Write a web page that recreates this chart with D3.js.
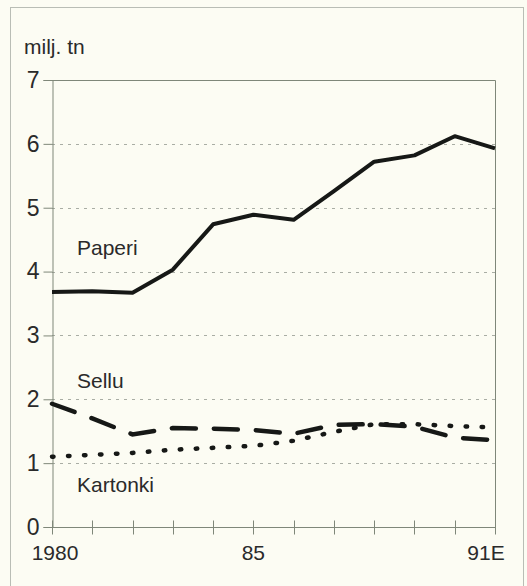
<!DOCTYPE html>
<html>
<head>
<meta charset="utf-8">
<script src="https://cdn.jsdelivr.net/npm/d3@7"></script>
<style>
  body { margin: 0; background: #fcfcf3; }
  svg { display: block; }
  text { font-family: "Liberation Sans", Arial, sans-serif; fill: #2a2a2a; }
</style>
</head>
<body>
<div id="chart"></div>
<script>
// Years 1980..1991 (1991 = estimate)
const years = [1980, 1981, 1982, 1983, 1984, 1985, 1986, 1987, 1988, 1989, 1990, 1991];
const xTickLabels = { 1980: "1980", 1985: "85", 1991: "91E" };
const yTicks = [0, 1, 2, 3, 4, 5, 6, 7];

// Production, million tonnes
const paperi   = [3.68, 3.69, 3.67, 4.03, 4.74, 4.89, 4.81, 5.26, 5.72, 5.82, 6.12, 5.93];
const sellu    = [1.93, 1.70, 1.45, 1.55, 1.54, 1.52, 1.46, 1.60, 1.61, 1.57, 1.40, 1.36];
const kartonki = [1.10, 1.13, 1.16, 1.21, 1.24, 1.27, 1.35, 1.49, 1.61, 1.61, 1.58, 1.56];

const width = 527, height = 586;
const margin = { top: 80, right: 32, bottom: 59, left: 52 };

const svg = d3.select("#chart")
    .append("svg")
    .attr("width", width)
    .attr("height", height);

// outer frame
svg.append("rect")
    .attr("x", 10.5)
    .attr("y", 7.5)
    .attr("width", 513)
    .attr("height", 600)
    .attr("fill", "#fcfcf3")
    .attr("stroke", "#b9bdb5")
    .attr("stroke-width", 1);

const x = d3.scaleLinear()
    .domain([1980, 1991])
    .range([margin.left, width - margin.right]);

const y = d3.scaleLinear()
    .domain([0, 7])
    .range([height - margin.bottom, margin.top]);

const axisColor = "#7f8779";

// dotted gridlines 1..6
svg.selectAll(".grid")
    .data(yTicks.filter(d => d > 0 && d < 7))
    .enter()
    .append("line")
    .attr("class", "grid")
    .attr("x1", x(1980))
    .attr("x2", x(1991))
    .attr("y1", d => Math.round(y(d)) + 0.5)
    .attr("y2", d => Math.round(y(d)) + 0.5)
    .attr("stroke", "#a9ada4")
    .attr("stroke-width", 1)
    .attr("stroke-dasharray", "3 5");

// top and right border of the plot
svg.append("path")
    .attr("d", "M" + x(1980) + "," + (Math.round(y(7)) + 0.5) +
        "H" + (Math.round(x(1991)) + 0.5) + "V" + y(0))
    .attr("fill", "none")
    .attr("stroke", axisColor)
    .attr("stroke-width", 1);

// y axis
const yAxis = svg.append("g")
    .attr("transform", "translate(" + (margin.left + 0.5) + ",0)")
    .call(d3.axisLeft(y).tickValues(yTicks).tickFormat(d3.format("d")).tickSize(9).tickPadding(4));
yAxis.selectAll("line, path").attr("stroke", axisColor);
yAxis.selectAll("text")
    .style("font-size", "23px")
    .style("font-family", "'Liberation Sans', Arial, sans-serif")
    .attr("fill", "#2a2a2a");

// x axis, ticks crossing the line
const xAxis = svg.append("g")
    .attr("transform", "translate(0," + (Math.round(y(0)) + 0.5) + ")");
xAxis.append("line")
    .attr("x1", x(1980))
    .attr("x2", x(1991))
    .attr("stroke", axisColor);
xAxis.selectAll(".xtick")
    .data(years)
    .enter()
    .append("line")
    .attr("class", "xtick")
    .attr("x1", d => Math.round(x(d)) + 0.5)
    .attr("x2", d => Math.round(x(d)) + 0.5)
    .attr("y1", -7)
    .attr("y2", 7)
    .attr("stroke", axisColor);
xAxis.selectAll(".xlabel")
    .data(years.filter(d => xTickLabels[d]))
    .enter()
    .append("text")
    .attr("class", "xlabel")
    .attr("x", d => x(d) + (d === 1991 ? -9 : d === 1980 ? 3 : 0))
    .attr("y", 32)
    .attr("text-anchor", "middle")
    .style("font-size", "21px")
    .text(d => xTickLabels[d]);

// unit label
svg.append("text")
    .attr("x", 24)
    .attr("y", 54)
    .style("font-size", "21px")
    .text("milj. tn");

const line = d3.line()
    .x((d, i) => x(years[i]))
    .y(d => y(d));

// Paperi - solid
svg.append("path")
    .datum(paperi)
    .attr("d", line)
    .attr("fill", "none")
    .attr("stroke", "#161816")
    .attr("stroke-width", 4)
    .attr("stroke-linejoin", "round");

// Kartonki - dotted
svg.append("path")
    .datum(kartonki)
    .attr("d", line)
    .attr("fill", "none")
    .attr("stroke", "#161816")
    .attr("stroke-width", 4.5)
    .attr("stroke-linecap", "round")
    .attr("stroke-dasharray", "1.5 14.5");

// Sellu - long dashes
svg.append("path")
    .datum(sellu)
    .attr("d", line)
    .attr("fill", "none")
    .attr("stroke", "#161816")
    .attr("stroke-width", 4.5)
    .attr("stroke-linecap", "round")
    .attr("stroke-dasharray", "24 18");

// series labels
const labels = [
    { text: "Paperi", v: 4.32 },
    { text: "Sellu", v: 2.24 },
    { text: "Kartonki", v: 0.615 }
];
svg.selectAll(".slabel")
    .data(labels)
    .enter()
    .append("text")
    .attr("class", "slabel")
    .attr("x", 77)
    .attr("y", d => y(d.v) + 4)
    .style("font-size", "21px")
    .text(d => d.text);
</script>
</body>
</html>
